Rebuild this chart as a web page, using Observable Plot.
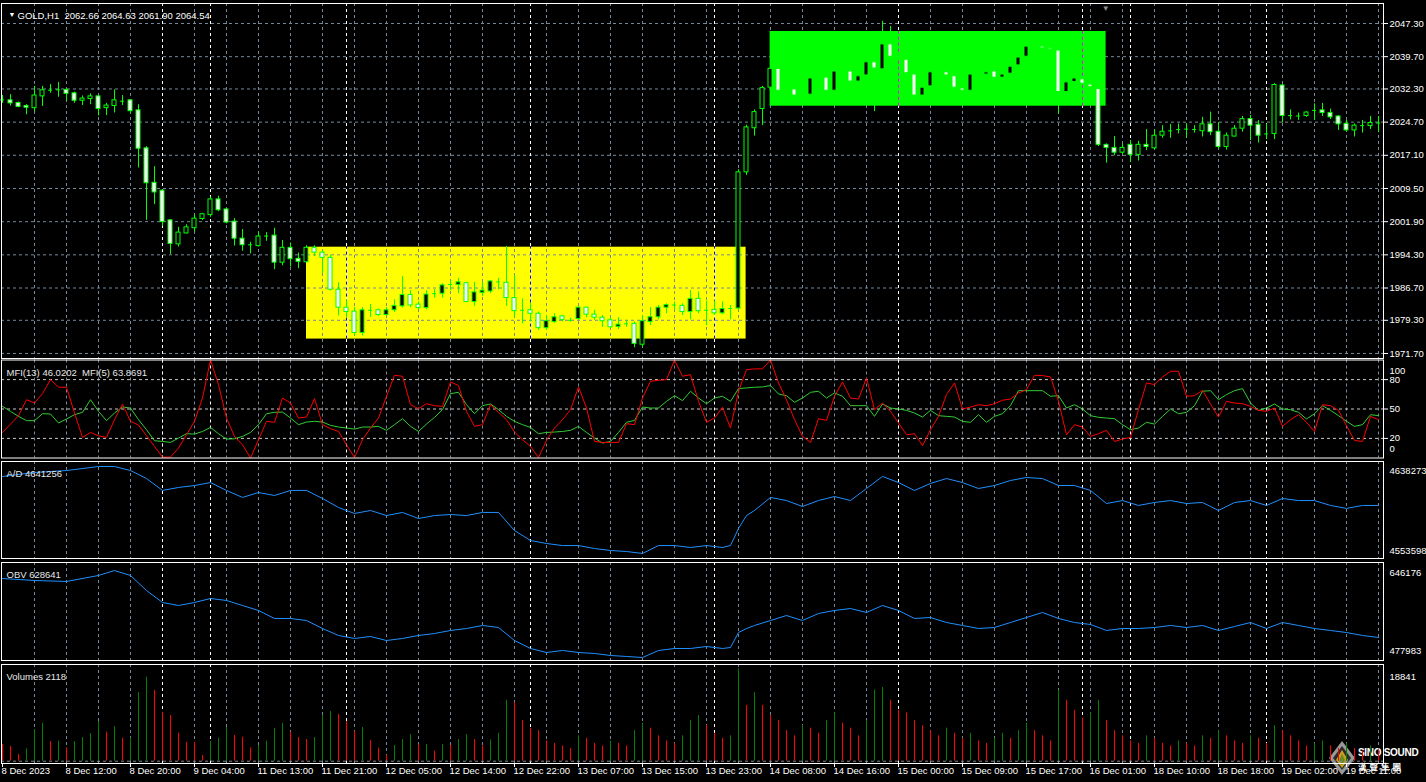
<!DOCTYPE html>
<html><head><meta charset="utf-8">
<script src="https://cdn.jsdelivr.net/npm/d3@7"></script>
<script src="https://cdn.jsdelivr.net/npm/@observablehq/plot@0.6"></script>
<style>
html,body{margin:0;padding:0;background:#000;overflow:hidden;}
#chart{position:relative;width:1426px;height:782px;background:#000;overflow:hidden;}
#logo{position:absolute;left:1328px;top:740px;width:98px;height:36px;font-family:'Liberation Sans',Arial,sans-serif;color:#fff;}
#logo .t1{position:absolute;left:30px;top:7px;font-size:10px;font-weight:bold;letter-spacing:-0.3px;white-space:nowrap;}
#logo .t2{position:absolute;left:30px;top:20px;font-size:8.5px;font-weight:bold;letter-spacing:3px;white-space:nowrap;font-family:'Noto Sans CJK TC',sans-serif;}
</style></head><body><div id="chart"><div id="logo"><svg width="28" height="36" style="position:absolute;left:0;top:0"><polygon points="14,1 27,18 14,35 1,18" fill="#9a9a9a"/><polygon points="14,6 23,18 14,30 5,18" fill="#2b2b2b"/><polygon points="14,10 20,20 14,28 8,20" fill="#c8a020"/><polygon points="14,14 17,20 14,25 11,20" fill="#6a8a20"/></svg><div class="t1">SINO SOUND</div><div class="t2">漢聲集團</div></div></div>
<script>
// ---------------- DATA ----------------
const header = "GOLD,H1\u00a0\u00a02062.66 2064.63 2061.90 2064.54";
const mfiLabel = "MFI(13) 46.0202\u00a0\u00a0MFI(5) 63.8691";
const adLabel = "A/D 4641256";
const obvLabel = "OBV 628641";
const volLabel = "Volumes 2118";

const open = [2029.9,2029.7,2029.1,2028.4,2027.9,2030.6,2032.0,2032.1,2032.1,2031.3,2029.6,2030.0,2030.6,2027.9,2028.4,2029.5,2029.7,2027.4,2018.7,2010.8,2009.0,2002.2,1996.7,1999.2,2000.4,2002.5,2003.4,2007.0,2004.7,2001.9,1998.0,1996.6,1996.3,1998.6,1998.7,1992.5,1995.9,1993.4,1992.6,1995.9,1994.8,1993.6,1986.3,1982.2,1981.3,1976.4,1981.5,1981.6,1980.5,1981.6,1982.5,1985.1,1982.9,1982.1,1985.3,1985.4,1987.4,1987.4,1987.8,1983.5,1985.6,1985.9,1988.0,1987.9,1984.4,1981.5,1981.6,1980.8,1977.5,1978.9,1980.2,1979.3,1979.6,1982.2,1980.6,1979.9,1979.3,1977.8,1978.4,1978.5,1973.7,1978.9,1980.0,1982.2,1982.8,1982.6,1981.2,1984.2,1981.5,1981.7,1980.9,1981.9,1982.0,2013.2,2023.3,2027.7,2032.6,2036.9,2032.0,2032.2,2030.8,2031.0,2034.7,2034.9,2031.9,2036.3,2036.3,2034.0,2035.4,2038.4,2036.8,2042.5,2039.6,2039.0,2035.6,2030.8,2032.9,2036.1,2036.1,2035.2,2032.4,2031.9,2035.6,2035.6,2036.3,2034.9,2035.8,2037.7,2039.7,2042.0,2042.0,2041.6,2041.1,2031.6,2033.9,2034.5,2033.3,2032.3,2019.5,2018.8,2017.7,2019.5,2017.2,2019.5,2018.7,2021.6,2022.7,2022.9,2023.0,2023.0,2022.6,2024.2,2022.5,2019.0,2021.4,2023.2,2025.4,2024.1,2022.0,2022.0,2033.1,2026.2,2026.2,2026.1,2027.3,2027.4,2026.8,2026.0,2024.3,2022.8,2023.9,2023.8,2024.5];
const high = [2030.8,2031.0,2029.3,2028.7,2032.9,2032.9,2033.3,2033.8,2032.3,2031.6,2030.7,2031.2,2030.7,2029.0,2032.1,2030.8,2029.8,2028.7,2019.1,2014.5,2009.2,2002.3,2000.6,2001.2,2003.5,2003.8,2007.5,2007.7,2004.8,2002.6,2000.1,1997.2,1999.6,1999.4,2000.4,1997.6,1997.0,1994.7,1996.4,1996.4,1995.3,1994.2,1987.9,1983.8,1982.2,1982.2,1982.9,1981.9,1982.2,1984.0,1989.3,1986.1,1983.5,1986.1,1986.3,1987.7,1988.4,1988.9,1988.0,1988.0,1988.0,1988.4,1988.9,1996.2,1989.6,1984.2,1983.2,1981.2,1980.4,1980.8,1980.4,1979.8,1982.3,1982.3,1981.6,1980.4,1979.9,1979.9,1979.3,1978.9,1980.4,1982.2,1982.7,1983.1,1983.5,1983.1,1986.1,1985.8,1983.7,1983.7,1983.5,1982.7,2013.8,2024.0,2027.5,2032.9,2037.3,2037.3,2032.8,2032.6,2031.5,2035.1,2035.4,2035.3,2036.8,2037.0,2036.7,2035.6,2038.9,2038.8,2047.8,2046.6,2040.0,2039.4,2036.0,2033.0,2036.5,2036.8,2036.5,2035.6,2032.8,2036.0,2036.3,2036.5,2036.7,2036.0,2037.8,2039.9,2042.4,2042.6,2042.4,2042.0,2041.5,2034.2,2035.1,2034.9,2033.7,2032.6,2019.7,2021.4,2019.7,2020.5,2020.3,2023.0,2023.0,2023.9,2024.2,2024.3,2024.3,2023.9,2025.8,2027.0,2024.6,2022.2,2023.9,2026.0,2026.2,2025.1,2024.3,2033.5,2033.3,2027.5,2026.8,2027.1,2028.9,2029.0,2027.7,2026.2,2025.1,2024.3,2025.1,2026.0,2026.0];
const low = [2029.0,2028.4,2028.0,2026.4,2027.0,2028.3,2031.3,2030.4,2029.5,2029.0,2028.5,2028.7,2026.1,2026.2,2026.8,2028.5,2026.6,2014.2,2002.2,2005.8,2000.8,1994.4,1996.1,1999.1,1999.5,2002.2,2002.9,2004.2,2001.4,1996.3,1995.1,1994.5,1996.1,1997.4,1990.9,1991.8,1991.5,1991.1,1992.5,1993.9,1990.0,1986.0,1980.3,1979.9,1975.7,1975.7,1980.0,1980.2,1980.3,1981.1,1982.1,1982.2,1981.6,1981.7,1984.4,1984.4,1986.1,1985.4,1983.3,1982.5,1984.8,1985.4,1986.3,1982.5,1979.9,1978.5,1978.9,1977.0,1977.0,1978.6,1978.9,1978.9,1979.3,1979.9,1979.3,1977.7,1977.4,1977.2,1977.7,1973.0,1973.0,1978.1,1979.4,1980.8,1981.6,1980.4,1979.4,1980.8,1978.1,1980.4,1980.6,1979.4,1981.5,2012.5,2021.5,2023.9,2032.2,2031.5,2031.4,2030.4,2030.2,2030.6,2034.1,2031.5,2031.5,2035.6,2033.6,2033.6,2035.0,2027.1,2036.4,2039.3,2039.0,2035.5,2030.4,2030.4,2032.5,2035.5,2035.0,2032.2,2031.5,2031.5,2035.0,2035.2,2034.5,2034.5,2035.4,2037.3,2039.3,2041.4,2041.2,2040.9,2026.5,2031.2,2033.5,2033.1,2032.3,2019.1,2015.3,2017.0,2017.3,2015.5,2015.8,2018.2,2018.3,2021.0,2021.0,2022.0,2021.0,2022.2,2021.3,2021.6,2018.6,2018.3,2021.3,2022.4,2020.5,2019.9,2020.7,2020.7,2024.5,2025.2,2025.1,2025.8,2025.1,2026.0,2025.3,2022.8,2022.4,2021.3,2022.2,2023.0,2022.4];
const close = [2029.8,2029.0,2028.2,2028.0,2030.8,2032.0,2032.0,2032.1,2031.2,2029.6,2030.1,2030.6,2027.7,2028.5,2029.7,2029.5,2027.2,2018.6,2010.7,2008.6,2001.8,1996.8,1999.4,2000.6,2002.6,2003.6,2007.0,2004.5,2001.7,1998.0,1996.5,1996.6,1998.5,1998.6,1992.5,1995.9,1993.3,1992.7,1995.9,1994.8,1993.6,1986.3,1982.2,1981.2,1976.4,1981.6,1981.6,1980.5,1981.6,1982.6,1985.1,1982.7,1982.1,1985.2,1985.4,1987.3,1987.5,1988.0,1983.5,1985.7,1986.1,1988.2,1988.1,1984.4,1981.4,1981.6,1980.8,1977.5,1979.1,1980.0,1979.4,1979.3,1982.2,1980.6,1979.9,1979.1,1977.7,1978.3,1978.5,1973.9,1979.1,1980.0,1982.2,1982.8,1982.8,1981.2,1984.2,1981.4,1981.6,1980.9,1981.9,1982.0,2013.2,2023.5,2027.0,2032.5,2036.9,2031.9,2032.1,2030.8,2030.9,2034.7,2034.8,2031.9,2036.3,2036.3,2034.0,2035.2,2038.4,2037.0,2042.5,2039.7,2039.4,2035.9,2030.8,2032.6,2036.1,2036.1,2035.4,2032.6,2031.9,2035.6,2035.6,2036.1,2034.9,2035.6,2037.4,2039.5,2042.0,2042.0,2041.6,2041.3,2031.6,2033.8,2034.7,2033.5,2032.7,2019.5,2018.8,2017.7,2018.8,2017.2,2019.5,2019.0,2021.6,2022.5,2022.7,2023.0,2023.1,2023.0,2024.2,2022.4,2019.0,2021.6,2023.2,2025.4,2023.9,2021.6,2022.0,2033.2,2026.1,2026.2,2026.1,2026.9,2027.4,2026.8,2025.8,2024.2,2022.8,2023.9,2023.9,2024.5,2024.5];

const mfi5 = [26.1,34.6,43.2,59.5,56.1,65.7,80.0,72.2,72.2,45.9,21.0,26.1,22.7,21.0,39.1,55.1,37.4,33.6,22.7,11.8,0.9,0.9,10.1,23.7,37.4,61.2,100,74.9,40.8,22.0,13.5,0,18.6,37.4,36.4,61.2,56.1,40.8,41.8,60.6,34.0,29.9,27.1,13.5,0.5,18.6,30.6,40.8,63.0,84.4,83.4,54.4,50.3,55.4,53.4,52.7,77.6,73.9,47.6,32.3,34.0,54.4,46.6,39.1,26.5,18.6,11.8,0.5,17.9,30.6,39.1,49.3,72.5,51.0,16.9,15.9,15.9,15.9,35.0,34.0,61.2,78.3,79.3,80.0,99.8,83.4,85.1,57.8,36.4,40.8,51.7,30.6,68.1,90.2,90.9,90.9,100,76.6,59.5,39.1,22.0,15.9,40.1,38.4,63.0,77.6,61.2,60.2,81.7,49.3,56.1,47.6,35.7,23.7,24.8,12.5,28.9,42.5,64.7,76.6,50.0,52.0,54.4,53.4,55.4,58.9,60.2,66.4,69.8,84.4,84.1,82.7,57.8,23.7,34.0,31.6,22.0,24.8,28.2,16.9,19.3,21.0,49.3,76.6,74.9,82.7,88.5,88.5,63.0,63.6,69.1,55.1,41.8,57.8,56.1,55.4,52.7,48.6,47.6,51.0,32.3,39.1,44.2,36.4,27.1,54.4,53.4,48.6,32.9,17.9,16.9,42.5,39.1];
const mfi13 = [52.7,47.6,42.5,38.1,38.1,45.2,44.9,35.7,39.8,44.2,46.6,59.5,47.6,38.1,45.9,52.0,51.0,39.1,28.9,17.6,16.9,15.9,20.3,24.8,24.4,27.1,31.2,24.8,19.3,19.6,22.0,26.1,34.0,45.2,46.6,46.9,40.8,34.0,36.7,37.4,36.7,33.3,31.6,30.6,29.5,31.6,31.6,32.3,28.2,34.0,40.1,32.3,27.1,34.6,41.5,49.3,65.7,67.0,54.4,45.2,53.4,55.1,49.3,42.5,37.4,34.0,31.2,24.8,26.1,26.5,27.1,28.2,32.3,26.1,20.3,15.2,16.9,26.1,36.4,38.4,52.0,51.0,51.0,57.8,63.6,58.5,68.1,61.2,55.4,61.2,63.0,57.8,70.8,71.5,72.2,72.5,73.9,65.3,63.6,56.8,61.2,67.0,68.1,61.2,66.4,63.0,53.4,53.4,53.4,42.5,55.1,51.0,50.0,48.6,45.9,41.8,48.6,43.2,42.5,41.8,37.4,36.4,44.2,36.4,42.5,45.2,53.4,68.7,68.7,68.7,68.7,63.0,63.6,51.0,54.4,50.0,43.2,41.5,40.8,40.1,34.0,28.9,30.6,36.4,34.6,42.5,50.0,45.2,46.6,53.4,68.1,68.7,59.5,64.7,68.7,70.8,56.1,48.6,51.0,55.1,50.0,49.3,46.6,39.8,45.2,53.4,48.6,43.2,37.4,32.3,34.0,44.2,43.2];

const lineBars = [0,4,8,12,14,16,18,20,22,24,26,28,30,32,34,36,38,40,42,44,46,48,50,52,54,56,58,60,62,64,66,68,70,72,74,76,78,80,82,84,86,88,90,91,92,93,94,96,98,100,102,104,106,108,110,112,114,116,118,120,122,124,126,128,130,132,134,136,138,140,142,144,146,148,150,152,154,156,158,160,162,164,166,168,170,172];
const adValues = [4625200,4628700,4630400,4633900,4633900,4630400,4623400,4613000,4615600,4617300,4619900,4613000,4606900,4611200,4608600,4613000,4613000,4606000,4598100,4592900,4595500,4591100,4593800,4588500,4591100,4592000,4591100,4593800,4593800,4578000,4569300,4566700,4564900,4564900,4562300,4560600,4559700,4558000,4564900,4564900,4563200,4564900,4563200,4564900,4579800,4591100,4595500,4606900,4604200,4599000,4604200,4607700,4604200,4614700,4625200,4619900,4613000,4619100,4623400,4619900,4614700,4617300,4621700,4624300,4623400,4617300,4617300,4613000,4601600,4604200,4599900,4602500,4604200,4601600,4602500,4595500,4602500,4604200,4599900,4606000,4604200,4604200,4599900,4597300,4599900,4599900];
const obvValues = [618700,615300,613600,623900,632400,623900,598100,577500,572400,577500,584400,581000,572400,563800,550100,550100,546600,532900,520900,515800,519200,512300,515800,520900,524300,529500,532900,538100,534600,512300,498600,491700,495200,491700,490000,486600,484900,483100,495200,498600,498600,502000,498600,500300,526000,532900,538100,546600,555200,546600,558700,563800,567200,560400,572400,563800,550100,551800,543200,538100,532900,534600,543200,551800,560400,550100,543200,539800,529500,532900,532900,534600,538100,534600,538100,529500,536300,543200,532900,543200,538100,532900,529500,526000,520900,517500];

const volumes = [3280,2890,1310,2430,6230,7480,3870,3940,2620,3870,4660,5440,7810,5710,6820,4530,4600,13510,16530,13910,9640,8990,5510,3740,3700,1120,3870,4530,6630,5050,4720,2620,3080,3940,6430,7480,5710,4660,4260,4660,8990,9770,9180,7810,5840,6630,4070,2560,1120,3080,4260,5250,3200,3300,1970,3280,3080,4260,5250,4260,3000,4200,5500,12000,11500,8000,6500,6000,4000,3500,3000,2500,5000,4500,3500,3000,4000,3500,3000,6000,7500,6500,5000,4000,3500,5000,8000,9000,7000,5500,4500,5000,18200,11000,13500,11000,9000,8000,6000,5000,7000,6500,5500,8000,9500,7500,6500,5000,8000,14000,14500,12000,10000,9500,8000,7000,6000,5000,6500,5500,4500,5500,4000,3500,4500,5500,4500,6000,7500,6000,5000,4000,14000,12000,10000,8500,9500,12000,8000,6000,5000,4000,3500,5000,4500,3500,3000,4000,3500,3000,5000,4500,6000,5000,4000,3500,5000,4500,3500,7000,6000,5000,4000,3000,3500,4000,3000,2500,3500,2500,2000,3000,2118];

const priceTicks = [2047.3,2039.7,2032.3,2024.7,2017.1,2009.5,2001.9,1994.3,1986.7,1979.3,1971.7];
const mfiLevels = [20,50,80];
const adRange = [4553598,4638273];
const obvRange = [477983,646176];
const volMax = 18841;
const timeTickBars = [0,8,16,24,32,40,48,56,64,72,80,88,96,104,112,120,128,136,144,152,160,168];
const timeTickLabels = ["8 Dec 2023","8 Dec 12:00","8 Dec 20:00","9 Dec 04:00","11 Dec 13:00","11 Dec 21:00","12 Dec 05:00","12 Dec 14:00","12 Dec 22:00","13 Dec 07:00","13 Dec 15:00","13 Dec 23:00","14 Dec 08:00","14 Dec 16:00","15 Dec 00:00","15 Dec 09:00","15 Dec 17:00","16 Dec 01:00","18 Dec 10:00","18 Dec 18:00","19 Dec 02:00","19 Dec 11:00"];
const separatorBars = [20,26,43,66,89,112,135,141,158];
const zones = [
  {x1: 38.0, x2: 92.95, y1: 1975.0, y2: 1996.05, fill: "#ffff00", sep: "#0000ff"},
  {x1: 95.95, x2: 137.95, y1: 2028.35, y2: 2045.47, fill: "#00ff00", sep: "#ff00ff"}
];
const shiftMarkerBar = 137.9;

// ---------------- BUILD ----------------
const N = open.length;
const gridBars = d3.range(4, N, 4);
const bars = open.map((o, i) => ({i, o, h: high[i], l: low[i], c: close[i]}));
const bodies = bars.filter(d => Math.abs(d.o - d.c) >= 0.15);
const dojis = bars.filter(d => Math.abs(d.o - d.c) < 0.15);
const vol = volumes.map((v, i) => ({i, v, up: i > 0 && v > volumes[i - 1]}));
const m5 = mfi5.map((v, i) => ({i, v}));
const m13 = mfi13.map((v, i) => ({i, v}));
const ad = lineBars.map((b, k) => ({i: b, v: adValues[k]}));
const obv = lineBars.map((b, k) => ({i: b, v: obvValues[k]}));
const timeTicks = timeTickBars.map((b, k) => ({b, t: timeTickLabels[k]}));

const FONT = "'Liberation Sans', Arial, sans-serif";
const X_DOMAIN = [-0.125, 172.625];
const GRID = "#778899";
const DASH = "3,3";

function panel(top, height, marginTop, marginBottom, yDomain, marks) {
  const svg = Plot.plot({
    width: 1426, height, marginTop, marginBottom, marginLeft: 1, marginRight: 43,
    x: {domain: X_DOMAIN, axis: null},
    y: {domain: yDomain, axis: null},
    color: {type: "identity"},
    style: {background: "transparent", color: "#ffffff", fontFamily: FONT, fontSize: "9.5px", overflow: "visible"},
    marks
  });
  svg.style.position = "absolute";
  svg.style.top = top + "px";
  svg.style.left = "0px";
  document.getElementById("chart").appendChild(svg);
}
const vGrid = () => [
  Plot.ruleX(gridBars, {stroke: GRID, strokeDasharray: DASH}),
  Plot.ruleX(separatorBars, {stroke: "#ffffff", strokeDasharray: DASH})
];
const label = (t) => Plot.text([t], {frameAnchor: "top-left", dx: 5, dy: 9, textAnchor: "start", fill: "#e8e8e8"});

// Main price panel
panel(0, 360, 3, 2, [1970.55, 2051.88], [
  Plot.rect([zones[0]], {x1: "x1", x2: "x2", y1: "y1", y2: "y2", fill: "fill"}),
  Plot.ruleY(priceTicks, {stroke: GRID, strokeDasharray: DASH}),
  ...vGrid(),
  Plot.rect([zones[1]], {x1: "x1", x2: "x2", y1: "y1", y2: "y2", fill: "fill"}),
  ...zones.map(z => Plot.ruleX(separatorBars.filter(b => b > z.x1 && b < z.x2), {y1: z.y1, y2: z.y2, stroke: z.sep, strokeDasharray: DASH})),
  Plot.ruleX(bars, {x: "i", y1: "l", y2: "h", stroke: "#00ff00"}),
  Plot.rect(bodies, {x1: d => d.i - 0.25, x2: d => d.i + 0.25, y1: "o", y2: "c", fill: d => d.c > d.o ? "#000000" : "#ffffff", stroke: "#00ff00"}),
  Plot.ruleY(dojis, {x1: d => d.i - 0.25, x2: d => d.i + 0.25, y: "c", stroke: "#00ff00"}),
  Plot.frame({stroke: "#ffffff"}),
  Plot.axisY(priceTicks, {anchor: "right", tickSize: 4, tickPadding: 2, tickFormat: d => d.toFixed(2), fill: "#ffffff", label: null}),
  Plot.text(["\u25BC"], {frameAnchor: "top-left", dx: 7, dy: 9, fill: "#ffffff", fontSize: 7}),
  Plot.text([header], {frameAnchor: "top-left", dx: 16, dy: 9, textAnchor: "start", fill: "#ffffff"}),
  Plot.text(["\u25BC"], {x: [shiftMarkerBar], frameAnchor: "top", dy: 2, fill: "#8c8c8c", fontSize: 8})
]);

// MFI panel
panel(358, 100, 1.5, 0.5, [0, 100], [
  ...vGrid(),
  Plot.ruleY(mfiLevels, {stroke: "#c8c8c8", strokeDasharray: DASH}),
  Plot.line(m13, {x: "i", y: "v", stroke: "#32cd32", strokeWidth: 1}),
  Plot.line(m5, {x: "i", y: "v", stroke: "#ff0000", strokeWidth: 1}),
  Plot.frame({stroke: "#ffffff"}),
  Plot.axisY(mfiLevels, {anchor: "right", tickSize: 4, tickPadding: 2, fill: "#ffffff", label: null}),
  Plot.text(["100"], {frameAnchor: "top-right", dx: 6, dy: 7, textAnchor: "start", fill: "#ffffff"}),
  Plot.text(["0"], {frameAnchor: "bottom-right", dx: 6, dy: -6, textAnchor: "start", fill: "#ffffff"}),
  label(mfiLabel)
]);

// A/D panel
panel(459, 100, 2, 1, adRange, [
  ...vGrid(),
  Plot.line(ad, {x: "i", y: "v", stroke: "#1e90ff", strokeWidth: 1}),
  Plot.frame({stroke: "#ffffff"}),
  Plot.text([String(adRange[1])], {frameAnchor: "top-right", dx: 6, dy: 6, textAnchor: "start", fill: "#ffffff"}),
  Plot.text([String(adRange[0])], {frameAnchor: "bottom-right", dx: 6, dy: -5, textAnchor: "start", fill: "#ffffff"}),
  label(adLabel)
]);

// OBV panel
panel(561, 100, 1, 1, obvRange, [
  ...vGrid(),
  Plot.line(obv, {x: "i", y: "v", stroke: "#1e90ff", strokeWidth: 1}),
  Plot.frame({stroke: "#ffffff"}),
  Plot.text([String(obvRange[1])], {frameAnchor: "top-right", dx: 6, dy: 7, textAnchor: "start", fill: "#ffffff"}),
  Plot.text([String(obvRange[0])], {frameAnchor: "bottom-right", dx: 6, dy: -7, textAnchor: "start", fill: "#ffffff"}),
  label(obvLabel)
]);

// Volumes panel + time axis
panel(663, 119, 1, 19, [-volMax * 0.024, volMax * 1.0105], [
  ...vGrid(),
  Plot.ruleY([0], {stroke: GRID, strokeDasharray: DASH}),
  Plot.ruleX(vol, {x: "i", y1: 0, y2: "v", stroke: d => d.up ? "#008000" : "#ff0000"}),
  Plot.frame({stroke: "#ffffff"}),
  Plot.text([String(volMax)], {frameAnchor: "top-right", dx: 6, dy: 9, textAnchor: "start", fill: "#ffffff"}),
  label(volLabel),
  Plot.axisX(timeTickBars, {anchor: "bottom", tickSize: 4, tickFormat: () => "", label: null}),
  Plot.text(timeTicks, {x: "b", text: "t", frameAnchor: "bottom", dy: 10, dx: -1, textAnchor: "start", fill: "#ffffff"})
]);
</script></body></html>
